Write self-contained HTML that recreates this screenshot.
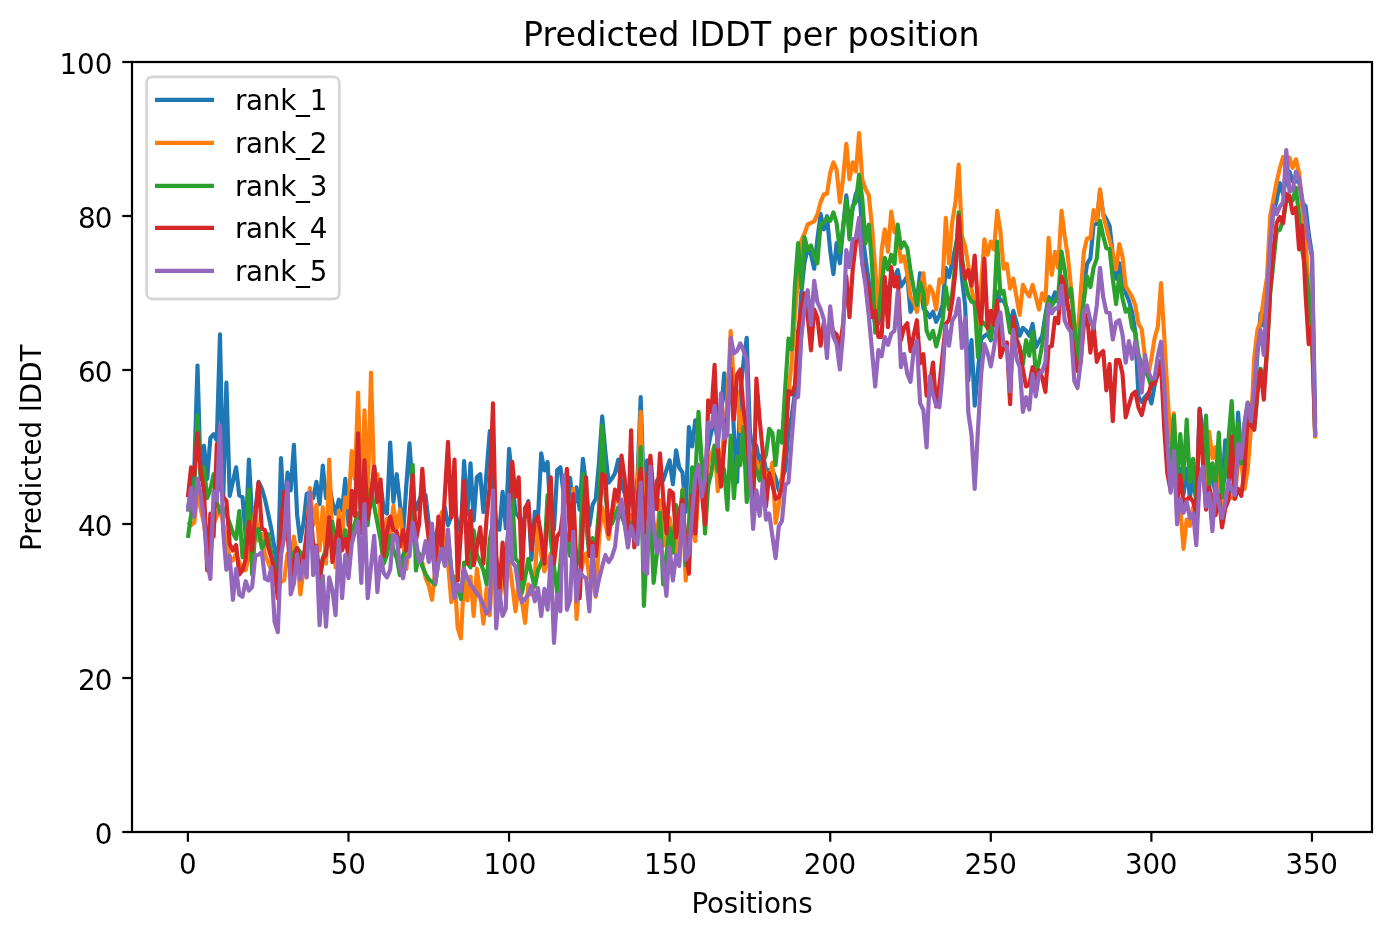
<!DOCTYPE html><html><head><meta charset="utf-8"><title>Predicted lDDT per position</title>
<style>html,body{margin:0;padding:0;background:#fff}svg{display:block}text{font-family:"DejaVu Sans","Liberation Sans",sans-serif;fill:#000}</style></head><body>
<svg width="1391" height="939" viewBox="0 0 1391 939">
<rect x="0" y="0" width="1391" height="939" fill="#fff"/>
<clipPath id="c"><rect x="132.0" y="62.0" width="1240.0" height="770.0"/></clipPath>
<g clip-path="url(#c)" fill="none" stroke-width="4.17" stroke-linejoin="round" stroke-linecap="butt">
<polyline stroke="#1f77b4" points="187.9,508.6 191.1,489.4 194.3,470.1 197.5,365.6 200.7,478.9 204.0,445.7 207.2,478.9 210.4,437.8 213.6,434.1 216.8,440.4 220.0,334.4 223.2,498.1 226.4,382.6 229.7,495.8 232.9,481.6 236.1,467.3 239.3,495.5 242.5,497.1 245.7,536.6 248.9,459.6 252.1,517.4 255.3,512.5 258.6,481.9 261.8,488.6 265.0,499.4 268.2,514.0 271.4,529.4 274.6,549.4 277.8,571.3 281.0,458.0 284.2,521.2 287.5,472.6 290.7,490.4 293.9,444.9 297.1,514.8 300.3,541.2 303.5,523.2 306.7,494.0 309.9,491.9 313.2,498.1 316.4,481.9 319.6,504.3 322.8,465.7 326.0,498.1 329.2,484.2 332.4,502.4 335.6,513.5 338.8,499.6 342.1,510.4 345.3,478.8 348.5,525.1 351.7,491.1 354.9,515.8 358.1,433.4 361.3,532.8 364.5,460.3 367.7,518.9 371.0,497.1 374.2,466.5 377.4,502.0 380.6,484.2 383.8,510.1 387.0,513.5 390.2,442.6 393.4,502.0 396.7,474.2 399.9,503.2 403.1,534.3 406.3,485.5 409.5,443.4 412.7,493.2 415.9,509.7 419.1,500.9 422.3,491.9 425.6,495.5 428.8,524.0 432.0,531.7 435.2,540.5 438.4,524.0 441.6,516.3 444.8,507.3 448.0,525.1 451.3,516.3 454.5,507.3 457.7,524.0 460.9,532.8 464.1,461.1 467.3,514.3 470.5,463.4 473.7,520.5 476.9,477.0 480.2,474.2 483.4,512.0 486.6,471.6 489.8,431.1 493.0,485.5 496.2,524.0 499.4,529.7 502.6,491.9 505.8,528.2 509.1,448.8 512.3,481.6 515.5,513.2 518.7,516.3 521.9,525.1 525.1,516.3 528.3,501.1 531.5,559.7 534.8,511.9 538.0,517.4 541.2,453.4 544.4,470.4 547.6,461.9 550.8,524.0 554.0,529.7 557.2,470.1 560.4,467.3 563.7,494.3 566.9,485.5 570.1,478.0 573.3,509.7 576.5,487.3 579.7,509.7 582.9,458.8 586.1,485.5 589.4,525.8 592.6,504.8 595.8,498.6 599.0,462.4 602.2,416.4 605.4,452.4 608.6,482.7 611.8,478.6 615.0,473.2 618.3,459.6 621.5,485.5 624.7,493.2 627.9,509.7 631.1,491.9 634.3,509.7 637.5,477.8 640.7,397.2 643.9,494.3 647.2,460.3 650.4,485.5 653.6,509.7 656.8,480.9 660.0,476.5 663.2,480.4 666.4,470.1 669.6,460.3 672.9,484.3 676.1,450.3 679.3,467.8 682.5,472.4 685.7,512.0 688.9,427.2 692.1,446.5 695.3,420.3 698.5,431.6 701.8,462.4 705.0,471.2 708.2,447.0 711.4,431.6 714.6,422.6 717.8,440.4 721.0,416.2 724.2,373.3 727.4,409.6 730.7,368.7 733.9,431.6 737.1,482.0 740.3,393.1 743.5,362.3 746.7,337.9 749.9,431.6 753.1,455.8 756.4,445.7 759.6,463.5 762.8,453.4 766.0,470.1 769.2,470.1 772.4,470.1 775.6,477.8 778.8,490.4 782.0,477.8 785.3,470.1 788.5,431.6 791.7,416.2 794.9,393.1 798.1,346.9 801.3,293.0 804.5,262.2 807.7,249.3 811.0,254.5 814.2,268.7 817.4,239.1 820.6,213.9 823.8,229.4 827.0,216.2 830.2,250.6 833.4,274.1 836.6,243.2 839.9,263.3 843.1,227.5 846.3,195.4 849.5,224.8 852.7,208.3 855.9,193.7 859.1,187.7 862.3,231.4 865.5,258.4 868.8,281.5 872.0,308.4 875.2,323.8 878.4,323.8 881.6,300.7 884.8,284.0 888.0,294.1 891.2,277.6 894.5,277.6 897.7,270.1 900.9,286.4 904.1,281.5 907.3,276.3 910.5,311.8 913.7,304.5 916.9,300.7 920.1,273.2 923.4,308.4 926.6,312.2 929.8,317.2 933.0,311.7 936.2,321.8 939.4,315.3 942.6,304.5 945.8,267.8 949.0,277.1 952.3,262.2 955.5,246.8 958.7,230.1 961.9,277.6 965.1,305.3 968.3,380.3 971.5,340.2 974.7,405.7 978.0,370.0 981.2,339.2 984.4,336.1 987.6,334.0 990.8,340.3 994.0,316.1 997.2,291.7 1000.4,300.7 1003.6,300.7 1006.9,308.4 1010.1,324.9 1013.3,310.9 1016.5,322.3 1019.7,335.7 1022.9,327.9 1026.1,330.7 1029.3,335.7 1032.6,324.0 1035.8,347.2 1039.0,341.5 1042.2,336.1 1045.4,315.3 1048.6,297.1 1051.8,301.0 1055.0,292.5 1058.2,301.8 1061.5,276.3 1064.7,293.0 1067.9,308.4 1071.1,316.1 1074.3,339.2 1077.5,363.4 1080.7,323.8 1083.9,285.3 1087.1,263.7 1090.4,258.4 1093.6,224.5 1096.8,223.7 1100.0,191.6 1103.2,213.7 1106.4,219.1 1109.6,226.0 1112.8,254.5 1116.1,278.7 1119.3,263.2 1122.5,277.6 1125.7,293.0 1128.9,300.7 1132.1,312.2 1135.3,331.5 1138.5,396.9 1141.7,401.9 1145.0,396.9 1148.2,393.3 1151.4,403.4 1154.6,385.4 1157.8,370.0 1161.0,361.0 1164.2,408.5 1167.4,454.7 1170.6,478.9 1173.9,445.7 1177.1,494.3 1180.3,468.8 1183.5,494.3 1186.7,468.8 1189.9,497.4 1193.1,476.5 1196.3,502.0 1199.6,408.7 1202.8,431.6 1206.0,470.1 1209.2,477.8 1212.4,477.8 1215.6,494.3 1218.8,476.5 1222.0,494.3 1225.2,440.3 1228.5,478.9 1231.7,445.7 1234.9,478.9 1238.1,412.6 1241.3,455.8 1244.5,431.6 1247.7,407.2 1250.9,421.1 1254.2,400.8 1257.4,354.6 1260.6,313.3 1263.8,325.6 1267.0,289.1 1270.2,239.1 1273.4,212.1 1276.6,200.6 1279.8,183.1 1283.1,194.0 1286.3,177.5 1289.5,171.6 1292.7,181.4 1295.9,181.4 1299.1,181.4 1302.3,202.9 1305.5,206.0 1308.7,233.7 1312.0,254.5 1315.2,423.9"/>
<polyline stroke="#ff7f0e" points="187.9,521.7 191.1,525.1 194.3,522.5 197.5,491.9 200.7,508.6 204.0,524.0 207.2,547.1 210.4,555.9 213.6,524.0 216.8,516.3 220.0,507.3 223.2,524.0 226.4,539.4 229.7,557.9 232.9,560.5 236.1,553.5 239.3,562.5 242.5,570.2 245.7,570.2 248.9,554.8 252.1,539.4 255.3,508.8 258.6,540.5 261.8,534.2 265.0,554.8 268.2,562.5 271.4,570.2 274.6,577.9 277.8,586.7 281.0,581.8 284.2,580.2 287.5,553.5 290.7,563.6 293.9,536.6 297.1,554.8 300.3,594.4 303.5,570.2 306.7,539.4 309.9,488.0 313.2,525.1 316.4,505.0 319.6,550.5 322.8,507.3 326.0,563.6 329.2,459.6 332.4,537.1 335.6,567.4 338.8,511.1 342.1,536.6 345.3,497.3 348.5,507.4 351.7,451.1 354.9,478.9 358.1,392.6 361.3,513.5 364.5,410.3 367.7,502.0 371.0,372.5 374.2,484.3 377.4,474.2 380.6,523.2 383.8,532.8 387.0,518.8 390.2,536.6 393.4,505.8 396.7,528.9 399.9,509.6 403.1,543.2 406.3,569.0 409.5,539.4 412.7,522.7 415.9,547.1 419.1,554.8 422.3,562.5 425.6,577.9 428.8,585.6 432.0,599.8 435.2,570.2 438.4,539.4 441.6,512.7 444.8,547.1 448.0,562.5 451.3,602.1 454.5,576.6 457.7,628.0 460.9,638.3 464.1,576.6 467.3,600.5 470.5,576.6 473.7,615.9 476.9,568.9 480.2,593.3 483.4,623.6 486.6,588.1 489.8,615.2 493.0,553.5 496.2,577.9 499.4,602.1 502.6,577.9 505.8,577.9 509.1,561.2 512.3,585.6 515.5,611.3 518.7,584.3 521.9,601.0 525.1,622.9 528.3,584.3 531.5,594.4 534.8,577.9 538.0,525.8 541.2,554.8 544.4,571.3 547.6,562.5 550.8,553.5 554.0,577.9 557.2,586.7 560.4,570.2 563.7,554.8 566.9,547.1 570.1,539.4 573.3,488.8 576.5,619.0 579.7,577.9 582.9,562.5 586.1,553.5 589.4,577.9 592.6,577.9 595.8,596.7 599.0,539.4 602.2,507.3 605.4,524.0 608.6,538.9 611.8,516.3 615.0,500.9 618.3,500.9 621.5,508.6 624.7,524.0 627.9,532.8 631.1,515.0 634.3,532.8 637.5,493.2 640.7,411.8 643.9,524.0 647.2,540.5 650.4,507.3 653.6,524.0 656.8,540.5 660.0,500.4 663.2,545.9 666.4,539.4 669.6,518.1 672.9,539.4 676.1,552.8 679.3,524.0 682.5,489.6 685.7,580.5 688.9,547.1 692.1,515.0 695.3,541.2 698.5,485.5 701.8,476.5 705.0,494.3 708.2,462.4 711.4,454.7 714.6,445.7 717.8,491.2 721.0,462.4 724.2,431.6 727.4,400.8 730.7,331.0 733.9,385.4 737.1,393.1 740.3,431.1 743.5,407.2 746.7,431.6 749.9,447.0 753.1,471.2 756.4,461.1 759.6,471.2 762.8,461.1 766.0,477.8 769.2,477.8 772.4,462.6 775.6,522.8 778.8,505.5 782.0,477.8 785.3,439.3 788.5,393.1 791.7,362.3 794.9,316.1 798.1,277.6 801.3,240.6 804.5,233.7 807.7,224.5 811.0,222.9 814.2,221.4 817.4,214.5 820.6,202.1 823.8,194.4 827.0,193.7 830.2,172.9 833.4,162.3 836.6,169.8 839.9,202.4 843.1,178.3 846.3,143.9 849.5,179.3 852.7,162.3 855.9,171.6 859.1,133.1 862.3,179.8 865.5,189.0 868.8,195.2 872.0,226.8 875.2,268.4 878.4,317.2 881.6,250.6 884.8,229.3 888.0,251.7 891.2,211.6 894.5,232.2 897.7,233.7 900.9,261.7 904.1,256.3 907.3,274.5 910.5,296.9 913.7,301.5 916.9,311.8 920.1,293.0 923.4,273.2 926.6,304.1 929.8,286.3 933.0,293.0 936.2,309.5 939.4,279.4 942.6,282.5 945.8,217.8 949.0,263.3 952.3,221.4 955.5,202.1 958.7,164.6 961.9,236.0 965.1,246.0 968.3,265.3 971.5,288.4 974.7,304.5 978.0,324.9 981.2,285.3 984.4,239.3 987.6,254.8 990.8,241.6 994.0,249.4 997.2,210.8 1000.4,231.4 1003.6,268.7 1006.9,264.0 1010.1,288.7 1013.3,278.6 1016.5,296.9 1019.7,314.9 1022.9,284.8 1026.1,291.5 1029.3,296.4 1032.6,284.8 1035.8,296.9 1039.0,309.5 1042.2,293.2 1045.4,301.0 1048.6,237.8 1051.8,274.8 1055.0,251.7 1058.2,267.9 1061.5,210.8 1064.7,236.0 1067.9,256.8 1071.1,288.4 1074.3,323.8 1077.5,341.0 1080.7,293.0 1083.9,251.4 1087.1,238.3 1090.4,238.3 1093.6,210.1 1096.8,220.2 1100.0,189.3 1103.2,215.2 1106.4,227.5 1109.6,239.9 1112.8,253.7 1116.1,269.4 1119.3,244.0 1122.5,256.8 1125.7,286.1 1128.9,291.5 1132.1,296.9 1135.3,305.3 1138.5,323.8 1141.7,329.2 1145.0,357.7 1148.2,374.9 1151.4,358.4 1154.6,338.4 1157.8,326.9 1161.0,283.2 1164.2,335.4 1167.4,392.3 1170.6,442.7 1173.9,413.4 1177.1,517.4 1180.3,507.3 1183.5,548.9 1186.7,519.6 1189.9,525.8 1193.1,507.3 1196.3,525.1 1199.6,477.8 1202.8,468.8 1206.0,486.6 1209.2,431.8 1212.4,458.1 1215.6,447.2 1218.8,485.5 1222.0,509.7 1225.2,493.2 1228.5,493.2 1231.7,497.8 1234.9,497.8 1238.1,461.1 1241.3,463.9 1244.5,488.9 1247.7,469.3 1250.9,429.3 1254.2,357.7 1257.4,330.0 1260.6,321.5 1263.8,297.6 1267.0,277.6 1270.2,216.0 1273.4,199.1 1276.6,182.1 1279.8,168.3 1283.1,156.9 1286.3,167.0 1289.5,157.7 1292.7,167.8 1295.9,159.3 1299.1,172.9 1302.3,208.3 1305.5,242.2 1308.7,285.3 1312.0,339.2 1315.2,438.5"/>
<polyline stroke="#2ca02c" points="187.9,537.9 191.1,514.8 194.3,485.5 197.5,415.7 200.7,476.6 204.0,467.3 207.2,498.1 210.4,489.4 213.6,474.2 216.8,502.4 220.0,512.0 223.2,508.1 226.4,514.8 229.7,523.2 232.9,533.2 236.1,538.9 239.3,511.1 242.5,557.4 245.7,537.1 248.9,489.6 252.1,574.4 255.3,531.7 258.6,528.9 261.8,548.2 265.0,542.5 268.2,534.2 271.4,554.8 274.6,569.4 277.8,584.4 281.0,531.7 284.2,513.5 287.5,524.0 290.7,559.0 293.9,552.5 297.1,548.1 300.3,552.5 303.5,559.0 306.7,540.2 309.9,522.7 313.2,549.4 316.4,557.9 319.6,584.4 322.8,557.9 326.0,549.4 329.2,540.2 332.4,521.9 335.6,549.4 338.8,553.6 342.1,545.6 345.3,530.4 348.5,559.0 351.7,531.7 354.9,523.2 358.1,513.5 361.3,532.8 364.5,513.5 367.7,525.1 371.0,488.8 374.2,506.3 377.4,523.2 380.6,540.2 383.8,563.6 387.0,554.8 390.2,535.8 393.4,549.4 396.7,557.9 399.9,575.1 403.1,554.8 406.3,549.4 409.5,531.7 412.7,464.9 415.9,570.5 419.1,553.5 422.3,566.4 425.6,574.0 428.8,579.4 432.0,581.8 435.2,584.4 438.4,562.5 441.6,553.5 444.8,563.6 448.0,538.1 451.3,570.2 454.5,585.6 457.7,585.6 460.9,599.0 464.1,562.5 467.3,562.5 470.5,567.4 473.7,530.4 476.9,554.8 480.2,562.5 483.4,570.2 486.6,584.4 489.8,539.4 493.0,522.7 496.2,562.5 499.4,575.9 502.6,573.3 505.8,554.8 509.1,524.0 512.3,496.5 515.5,558.6 518.7,562.5 521.9,592.8 525.1,577.9 528.3,558.9 531.5,574.0 534.8,586.7 538.0,570.2 541.2,562.5 544.4,554.8 547.6,495.0 550.8,539.4 554.0,566.4 557.2,592.8 560.4,562.5 563.7,522.7 566.9,539.4 570.1,555.9 573.3,538.1 576.5,554.8 579.7,563.6 582.9,473.4 586.1,524.0 589.4,555.9 592.6,538.1 595.8,548.2 599.0,508.6 602.2,425.7 605.4,493.2 608.6,524.0 611.8,524.0 615.0,516.3 618.3,507.3 621.5,516.3 624.7,524.0 627.9,540.5 631.1,522.7 634.3,540.5 637.5,524.0 640.7,447.2 643.9,605.9 647.2,539.4 650.4,507.3 653.6,582.8 656.8,554.8 660.0,512.7 663.2,584.4 666.4,554.8 669.6,528.1 672.9,552.8 676.1,505.0 679.3,532.8 682.5,490.4 685.7,565.1 688.9,524.0 692.1,467.3 695.3,478.9 698.5,411.8 701.8,462.4 705.0,533.5 708.2,485.5 711.4,472.4 714.6,445.7 717.8,471.2 721.0,461.1 724.2,470.1 727.4,509.7 730.7,435.7 733.9,498.1 737.1,456.5 740.3,465.0 743.5,427.2 746.7,502.0 749.9,453.4 753.1,462.4 756.4,470.1 759.6,480.4 762.8,462.4 766.0,454.7 769.2,428.8 772.4,433.1 775.6,465.0 778.8,431.1 782.0,442.7 785.3,386.9 788.5,338.7 791.7,349.5 794.9,285.3 798.1,243.2 801.3,287.9 804.5,237.0 807.7,250.2 811.0,245.5 814.2,256.0 817.4,263.3 820.6,223.7 823.8,222.9 827.0,217.8 830.2,220.9 833.4,212.4 836.6,222.9 839.9,251.7 843.1,227.5 846.3,200.1 849.5,239.4 852.7,206.0 855.9,202.1 859.1,174.7 862.3,199.1 865.5,243.3 868.8,224.7 872.0,264.5 875.2,332.6 878.4,316.1 881.6,285.3 884.8,257.8 888.0,269.4 891.2,254.7 894.5,264.0 897.7,224.7 900.9,247.9 904.1,242.4 907.3,248.3 910.5,270.7 913.7,288.4 916.9,304.9 920.1,282.5 923.4,293.0 926.6,330.7 929.8,338.7 933.0,331.0 936.2,346.4 939.4,334.6 942.6,320.0 945.8,287.1 949.0,309.5 952.3,293.0 955.5,262.2 958.7,212.4 961.9,256.8 965.1,281.5 968.3,295.3 971.5,301.5 974.7,303.0 978.0,357.2 981.2,321.0 984.4,323.8 987.6,327.6 990.8,338.7 994.0,308.4 997.2,241.6 1000.4,294.1 1003.6,290.9 1006.9,312.2 1010.1,332.6 1013.3,322.5 1016.5,339.2 1019.7,346.9 1022.9,364.1 1026.1,340.2 1029.3,355.7 1032.6,331.7 1035.8,373.4 1039.0,362.3 1042.2,344.6 1045.4,320.0 1048.6,299.4 1051.8,305.6 1055.0,300.7 1058.2,296.9 1061.5,251.7 1064.7,269.9 1067.9,297.9 1071.1,288.6 1074.3,323.8 1077.5,361.1 1080.7,323.8 1083.9,299.9 1087.1,276.3 1090.4,287.1 1093.6,267.6 1096.8,258.4 1100.0,220.9 1103.2,236.0 1106.4,248.3 1109.6,249.1 1112.8,279.1 1116.1,304.1 1119.3,275.5 1122.5,298.4 1125.7,311.8 1128.9,308.6 1132.1,327.6 1135.3,333.0 1138.5,354.6 1141.7,364.6 1145.0,370.0 1148.2,376.9 1151.4,386.5 1154.6,377.7 1157.8,370.0 1161.0,361.0 1164.2,408.5 1167.4,447.0 1170.6,471.2 1173.9,415.7 1177.1,478.9 1180.3,434.1 1183.5,478.9 1186.7,419.5 1189.9,482.0 1193.1,458.8 1196.3,499.7 1199.6,470.1 1202.8,470.1 1206.0,415.7 1209.2,487.3 1212.4,463.4 1215.6,486.6 1218.8,432.6 1222.0,497.4 1225.2,470.1 1228.5,439.3 1231.7,401.0 1234.9,463.5 1238.1,423.4 1241.3,463.5 1244.5,423.9 1247.7,402.6 1250.9,416.2 1254.2,429.6 1257.4,393.1 1260.6,368.7 1263.8,386.5 1267.0,352.3 1270.2,293.0 1273.4,262.2 1276.6,231.4 1279.8,229.9 1283.1,219.9 1286.3,200.6 1289.5,200.6 1292.7,200.6 1295.9,187.7 1299.1,216.0 1302.3,250.6 1305.5,269.9 1308.7,293.0 1312.0,327.6 1315.2,435.4"/>
<polyline stroke="#d62728" points="187.9,497.1 191.1,467.3 194.3,475.0 197.5,433.4 200.7,471.6 204.0,490.1 207.2,570.5 210.4,513.5 213.6,536.6 216.8,444.2 220.0,485.5 223.2,497.1 226.4,500.9 229.7,544.0 232.9,550.5 236.1,545.0 239.3,574.4 242.5,570.2 245.7,559.4 248.9,521.9 252.1,550.5 255.3,514.8 258.6,482.7 261.8,528.6 265.0,530.2 268.2,547.1 271.4,557.9 274.6,570.2 277.8,598.2 281.0,524.0 284.2,491.9 287.5,531.7 290.7,577.4 293.9,561.0 297.1,548.1 300.3,567.4 303.5,561.0 306.7,531.7 309.9,501.1 313.2,545.6 316.4,545.6 319.6,577.4 322.8,558.6 326.0,554.8 329.2,517.3 332.4,562.0 335.6,540.2 338.8,520.4 342.1,550.5 345.3,538.9 348.5,553.6 351.7,491.1 354.9,515.8 358.1,433.4 361.3,532.8 364.5,460.3 367.7,518.9 371.0,497.1 374.2,466.5 377.4,502.0 380.6,479.6 383.8,555.9 387.0,531.7 390.2,516.5 393.4,530.2 396.7,531.7 399.9,546.6 403.1,530.4 406.3,550.5 409.5,516.3 412.7,475.0 415.9,540.5 419.1,524.0 422.3,468.8 425.6,513.2 428.8,539.4 432.0,547.1 435.2,575.1 438.4,516.5 441.6,548.2 444.8,495.5 448.0,441.8 451.3,517.4 454.5,459.6 457.7,580.5 460.9,531.7 464.1,481.1 467.3,563.6 470.5,511.1 473.7,565.1 476.9,547.1 480.2,527.3 483.4,563.6 486.6,517.8 489.8,485.5 493.0,403.3 496.2,554.8 499.4,591.3 502.6,542.7 505.8,594.4 509.1,524.0 512.3,461.9 515.5,496.6 518.7,477.3 521.9,579.0 525.1,507.8 528.3,502.7 531.5,549.7 534.8,521.7 538.0,516.5 541.2,536.3 544.4,563.6 547.6,516.3 550.8,477.3 554.0,563.6 557.2,536.3 560.4,531.7 563.7,508.6 566.9,468.8 570.1,540.5 573.3,494.2 576.5,567.9 579.7,598.2 582.9,524.0 586.1,477.3 589.4,555.9 592.6,542.7 595.8,555.9 599.0,524.0 602.2,474.2 605.4,476.3 608.6,534.3 611.8,513.2 615.0,489.6 618.3,500.4 621.5,455.7 624.7,478.6 627.9,530.5 631.1,430.3 634.3,547.4 637.5,500.9 640.7,468.8 643.9,532.8 647.2,485.5 650.4,455.7 653.6,495.5 656.8,508.9 660.0,453.4 663.2,497.1 666.4,533.5 669.6,490.4 672.9,493.2 676.1,537.4 679.3,512.5 682.5,499.6 685.7,547.1 688.9,573.6 692.1,495.7 695.3,533.5 698.5,468.8 701.8,493.2 705.0,524.3 708.2,400.3 711.4,411.9 714.6,364.8 717.8,447.0 721.0,486.6 724.2,447.0 727.4,416.2 730.7,368.7 733.9,419.6 737.1,374.6 740.3,369.5 743.5,409.3 746.7,431.6 749.9,477.8 753.1,512.0 756.4,378.7 759.6,419.3 762.8,451.6 766.0,506.6 769.2,473.4 772.4,484.7 775.6,498.9 778.8,497.1 782.0,487.8 785.3,445.5 788.5,391.0 791.7,394.2 794.9,385.4 798.1,331.5 801.3,308.4 804.5,293.2 807.7,316.1 811.0,350.3 814.2,309.4 817.4,317.6 820.6,345.7 823.8,322.5 827.0,340.3 830.2,322.5 833.4,331.5 836.6,334.6 839.9,348.0 843.1,323.8 846.3,276.3 849.5,317.2 852.7,269.9 855.9,242.2 859.1,230.1 862.3,262.2 865.5,277.6 868.8,289.1 872.0,317.2 875.2,310.9 878.4,336.9 881.6,336.9 884.8,277.1 888.0,327.2 891.2,267.1 894.5,286.4 897.7,277.1 900.9,340.3 904.1,327.6 907.3,323.3 910.5,351.1 913.7,335.4 916.9,320.2 920.1,363.4 923.4,354.1 926.6,395.7 929.8,385.4 933.0,362.5 936.2,406.5 939.4,385.4 942.6,354.6 945.8,323.8 949.0,320.0 952.3,300.7 955.5,270.7 958.7,216.2 961.9,262.2 965.1,278.7 968.3,270.1 971.5,285.6 974.7,255.5 978.0,305.3 981.2,323.3 984.4,258.6 987.6,328.0 990.8,310.9 994.0,324.9 997.2,300.9 1000.4,357.2 1003.6,348.4 1006.9,342.5 1010.1,404.2 1013.3,317.1 1016.5,339.2 1019.7,348.4 1022.9,370.0 1026.1,386.5 1029.3,384.6 1032.6,367.2 1035.8,378.8 1039.0,370.2 1042.2,377.7 1045.4,391.9 1048.6,346.9 1051.8,346.1 1055.0,317.9 1058.2,323.3 1061.5,277.1 1064.7,286.1 1067.9,305.3 1071.1,331.5 1074.3,354.6 1077.5,371.1 1080.7,362.3 1083.9,323.8 1087.1,314.8 1090.4,352.6 1093.6,326.3 1096.8,361.8 1100.0,353.8 1103.2,351.0 1106.4,390.3 1109.6,364.1 1112.8,421.1 1116.1,360.0 1119.3,360.0 1122.5,373.9 1125.7,417.3 1128.9,405.4 1132.1,394.6 1135.3,391.8 1138.5,407.7 1141.7,415.0 1145.0,400.8 1148.2,395.4 1151.4,383.9 1154.6,383.9 1157.8,374.6 1161.0,361.8 1164.2,427.8 1167.4,473.9 1170.6,490.4 1173.9,468.8 1177.1,502.0 1180.3,475.0 1183.5,502.7 1186.7,499.4 1189.9,497.3 1193.1,501.7 1196.3,513.5 1199.6,409.5 1202.8,460.1 1206.0,509.7 1209.2,487.3 1212.4,500.9 1215.6,515.1 1218.8,495.0 1222.0,527.4 1225.2,508.6 1228.5,500.1 1231.7,436.5 1234.9,498.9 1238.1,488.8 1241.3,495.8 1244.5,469.3 1247.7,418.7 1250.9,425.4 1254.2,429.6 1257.4,392.3 1260.6,370.2 1263.8,399.6 1267.0,349.2 1270.2,289.1 1273.4,250.6 1276.6,222.9 1279.8,217.0 1283.1,223.2 1286.3,193.9 1289.5,196.0 1292.7,213.2 1295.9,207.8 1299.1,249.4 1302.3,225.5 1305.5,293.0 1308.7,344.1 1312.0,326.3 1315.2,435.4"/>
<polyline stroke="#9467bd" points="187.9,511.7 191.1,488.0 194.3,516.6 197.5,478.8 200.7,494.0 204.0,519.4 207.2,562.5 210.4,579.0 213.6,491.9 216.8,500.4 220.0,425.7 223.2,531.7 226.4,569.7 229.7,555.8 232.9,599.8 236.1,568.9 239.3,594.8 242.5,596.7 245.7,581.2 248.9,590.5 252.1,587.1 255.3,555.6 258.6,554.8 261.8,552.0 265.0,578.7 268.2,580.5 271.4,567.4 274.6,621.8 277.8,632.1 281.0,554.8 284.2,537.1 287.5,482.7 290.7,594.4 293.9,583.3 297.1,554.3 300.3,579.7 303.5,561.2 306.7,577.4 309.9,492.7 313.2,575.1 316.4,546.6 319.6,625.2 322.8,575.8 326.0,626.7 329.2,577.4 332.4,590.2 335.6,615.2 338.8,539.6 342.1,598.2 345.3,555.0 348.5,578.2 351.7,544.0 354.9,531.7 358.1,521.2 361.3,582.8 364.5,504.2 367.7,598.2 371.0,566.4 374.2,535.8 377.4,592.1 380.6,556.6 383.8,573.3 387.0,577.4 390.2,569.4 393.4,535.0 396.7,537.1 399.9,566.4 403.1,578.2 406.3,557.9 409.5,556.3 412.7,522.7 415.9,539.4 419.1,562.0 422.3,558.6 425.6,541.2 428.8,562.0 432.0,523.5 435.2,582.8 438.4,562.5 441.6,548.9 444.8,565.9 448.0,529.6 451.3,571.0 454.5,598.2 457.7,584.3 460.9,591.3 464.1,568.9 467.3,577.9 470.5,584.1 473.7,588.7 476.9,593.3 480.2,597.9 483.4,604.9 486.6,613.6 489.8,608.7 493.0,490.4 496.2,628.3 499.4,591.2 502.6,615.9 505.8,608.7 509.1,495.0 512.3,562.5 515.5,566.4 518.7,590.2 521.9,602.1 525.1,598.7 528.3,594.8 531.5,585.8 534.8,601.3 538.0,588.1 541.2,615.9 544.4,588.9 547.6,609.8 550.8,556.6 554.0,642.9 557.2,594.3 560.4,611.3 563.7,475.7 566.9,609.8 570.1,600.2 573.3,531.9 576.5,601.3 579.7,570.4 582.9,576.4 586.1,577.9 589.4,611.3 592.6,545.8 595.8,595.1 599.0,579.4 602.2,566.4 605.4,555.0 608.6,562.0 611.8,557.1 615.0,547.1 618.3,516.3 621.5,499.6 624.7,524.8 627.9,547.4 631.1,525.8 634.3,538.6 637.5,544.3 640.7,482.7 643.9,569.4 647.2,573.6 650.4,466.5 653.6,524.8 656.8,552.8 660.0,540.4 663.2,565.6 666.4,595.9 669.6,548.1 672.9,580.5 676.1,555.0 679.3,565.9 682.5,505.0 685.7,559.7 688.9,554.0 692.1,514.0 695.3,477.8 698.5,464.9 701.8,496.6 705.0,479.3 708.2,422.6 711.4,427.3 714.6,405.7 717.8,446.5 721.0,393.3 724.2,438.8 727.4,434.7 730.7,337.9 733.9,353.4 737.1,350.8 740.3,343.3 743.5,350.8 746.7,359.2 749.9,470.1 753.1,528.9 756.4,490.4 759.6,515.8 762.8,481.1 766.0,519.7 769.2,513.5 772.4,536.3 775.6,558.2 778.8,526.3 782.0,520.9 785.3,484.7 788.5,482.4 791.7,439.3 794.9,398.5 798.1,396.9 801.3,338.4 804.5,307.6 807.7,290.2 811.0,324.9 814.2,280.9 817.4,302.2 820.6,309.2 823.8,319.2 827.0,358.0 830.2,306.3 833.4,336.9 836.6,343.8 839.9,369.5 843.1,333.0 846.3,250.1 849.5,267.1 852.7,239.1 855.9,237.6 859.1,217.8 862.3,264.5 865.5,285.3 868.8,316.1 872.0,350.8 875.2,386.5 878.4,350.2 881.6,356.4 884.8,337.1 888.0,344.9 891.2,333.8 894.5,330.7 897.7,291.7 900.9,367.2 904.1,354.1 907.3,373.9 910.5,381.9 913.7,350.0 916.9,341.0 920.1,403.1 923.4,410.0 926.6,447.3 929.8,376.4 933.0,394.6 936.2,405.4 939.4,407.3 942.6,373.9 945.8,325.6 949.0,345.7 952.3,320.7 955.5,315.3 958.7,298.6 961.9,348.0 965.1,317.9 968.3,412.4 971.5,434.7 974.7,488.9 978.0,429.3 981.2,373.9 984.4,344.1 987.6,353.1 990.8,366.5 994.0,348.4 997.2,322.3 1000.4,312.5 1003.6,344.6 1006.9,346.9 1010.1,391.1 1013.3,330.2 1016.5,358.4 1019.7,366.9 1022.9,411.9 1026.1,397.2 1029.3,409.6 1032.6,374.1 1035.8,396.5 1039.0,373.9 1042.2,371.5 1045.4,362.3 1048.6,304.0 1051.8,313.3 1055.0,308.4 1058.2,308.4 1061.5,285.5 1064.7,320.7 1067.9,327.6 1071.1,332.3 1074.3,380.8 1077.5,388.0 1080.7,362.3 1083.9,312.2 1087.1,305.6 1090.4,320.7 1093.6,328.0 1096.8,305.3 1100.0,267.8 1103.2,296.9 1106.4,312.2 1109.6,313.0 1112.8,339.5 1116.1,322.3 1119.3,320.2 1122.5,334.6 1125.7,362.6 1128.9,341.0 1132.1,358.8 1135.3,341.7 1138.5,357.7 1141.7,392.6 1145.0,354.8 1148.2,371.5 1151.4,378.5 1154.6,378.5 1157.8,356.1 1161.0,341.7 1164.2,385.4 1167.4,443.1 1170.6,492.7 1173.9,451.1 1177.1,524.3 1180.3,498.8 1183.5,512.8 1186.7,501.9 1189.9,518.1 1193.1,513.5 1196.3,545.1 1199.6,480.9 1202.8,466.5 1206.0,506.6 1209.2,493.4 1212.4,531.2 1215.6,484.2 1218.8,503.2 1222.0,518.1 1225.2,503.2 1228.5,480.3 1231.7,490.1 1234.9,495.0 1238.1,444.2 1241.3,458.1 1244.5,423.9 1247.7,403.3 1250.9,421.1 1254.2,389.2 1257.4,349.2 1260.6,330.2 1263.8,354.9 1267.0,294.5 1270.2,242.2 1273.4,205.5 1276.6,214.0 1279.8,206.8 1283.1,202.1 1286.3,150.0 1289.5,191.7 1292.7,189.8 1295.9,171.6 1299.1,178.3 1302.3,199.1 1305.5,219.9 1308.7,240.6 1312.0,257.6 1315.2,437.0"/>
</g>
<g stroke="#000" stroke-width="2.22" fill="none">
<line x1="187.90" y1="832.0" x2="187.90" y2="841.72"/>
<line x1="348.48" y1="832.0" x2="348.48" y2="841.72"/>
<line x1="509.06" y1="832.0" x2="509.06" y2="841.72"/>
<line x1="669.64" y1="832.0" x2="669.64" y2="841.72"/>
<line x1="830.22" y1="832.0" x2="830.22" y2="841.72"/>
<line x1="990.80" y1="832.0" x2="990.80" y2="841.72"/>
<line x1="1151.38" y1="832.0" x2="1151.38" y2="841.72"/>
<line x1="1311.96" y1="832.0" x2="1311.96" y2="841.72"/>
<line x1="132.0" y1="832.00" x2="122.28" y2="832.00"/>
<line x1="132.0" y1="678.00" x2="122.28" y2="678.00"/>
<line x1="132.0" y1="524.00" x2="122.28" y2="524.00"/>
<line x1="132.0" y1="370.00" x2="122.28" y2="370.00"/>
<line x1="132.0" y1="216.00" x2="122.28" y2="216.00"/>
<line x1="132.0" y1="62.00" x2="122.28" y2="62.00"/>
<rect x="132.0" y="62.0" width="1240.0" height="770.0" stroke-linejoin="miter"/>
</g>
<g font-size="27.78px">
<text x="187.60" y="874.1" text-anchor="middle" letter-spacing="-0.3">0</text>
<text x="348.18" y="874.1" text-anchor="middle" letter-spacing="-0.3">50</text>
<text x="509.91" y="874.1" text-anchor="middle" letter-spacing="0">100</text>
<text x="670.49" y="874.1" text-anchor="middle" letter-spacing="0">150</text>
<text x="829.92" y="874.1" text-anchor="middle" letter-spacing="-0.3">200</text>
<text x="990.50" y="874.1" text-anchor="middle" letter-spacing="-0.3">250</text>
<text x="1151.08" y="874.1" text-anchor="middle" letter-spacing="-0.3">300</text>
<text x="1311.66" y="874.1" text-anchor="middle" letter-spacing="-0.3">350</text>
<text x="112.45" y="843.60" text-anchor="end" letter-spacing="0">0</text>
<text x="111.65" y="689.60" text-anchor="end" letter-spacing="-0.8">20</text>
<text x="111.65" y="535.60" text-anchor="end" letter-spacing="-0.8">40</text>
<text x="111.65" y="381.60" text-anchor="end" letter-spacing="-0.8">60</text>
<text x="111.65" y="227.60" text-anchor="end" letter-spacing="-0.8">80</text>
<text x="112.45" y="73.60" text-anchor="end" letter-spacing="0">100</text>
<text x="752" y="913" text-anchor="middle" letter-spacing="-0.16">Positions</text>
<text transform="translate(40.9,447.8) rotate(-90)" text-anchor="middle">Predicted lDDT</text>
</g>
<text x="751.3" y="45.6" text-anchor="middle" font-size="33.33px">Predicted lDDT per position</text>
<rect x="146.6" y="76.9" width="192.70000000000002" height="222.1" rx="5.5" ry="5.5" fill="#fff" fill-opacity="0.8" stroke="#ccc" stroke-opacity="0.8" stroke-width="2.78"/>
<line x1="155" y1="99.8" x2="214" y2="99.8" stroke="#1f77b4" stroke-width="4.17"/>
<text x="234.9" y="109.8" font-size="27.78px" letter-spacing="-0.25">rank_1</text>
<line x1="155" y1="142.8" x2="214" y2="142.8" stroke="#ff7f0e" stroke-width="4.17"/>
<text x="234.9" y="152.8" font-size="27.78px" letter-spacing="-0.25">rank_2</text>
<line x1="155" y1="185.8" x2="214" y2="185.8" stroke="#2ca02c" stroke-width="4.17"/>
<text x="234.9" y="195.8" font-size="27.78px" letter-spacing="-0.25">rank_3</text>
<line x1="155" y1="227.9" x2="214" y2="227.9" stroke="#d62728" stroke-width="4.17"/>
<text x="234.9" y="237.9" font-size="27.78px" letter-spacing="-0.25">rank_4</text>
<line x1="155" y1="270.8" x2="214" y2="270.8" stroke="#9467bd" stroke-width="4.17"/>
<text x="234.9" y="280.8" font-size="27.78px" letter-spacing="-0.25">rank_5</text>
</svg></body></html>
